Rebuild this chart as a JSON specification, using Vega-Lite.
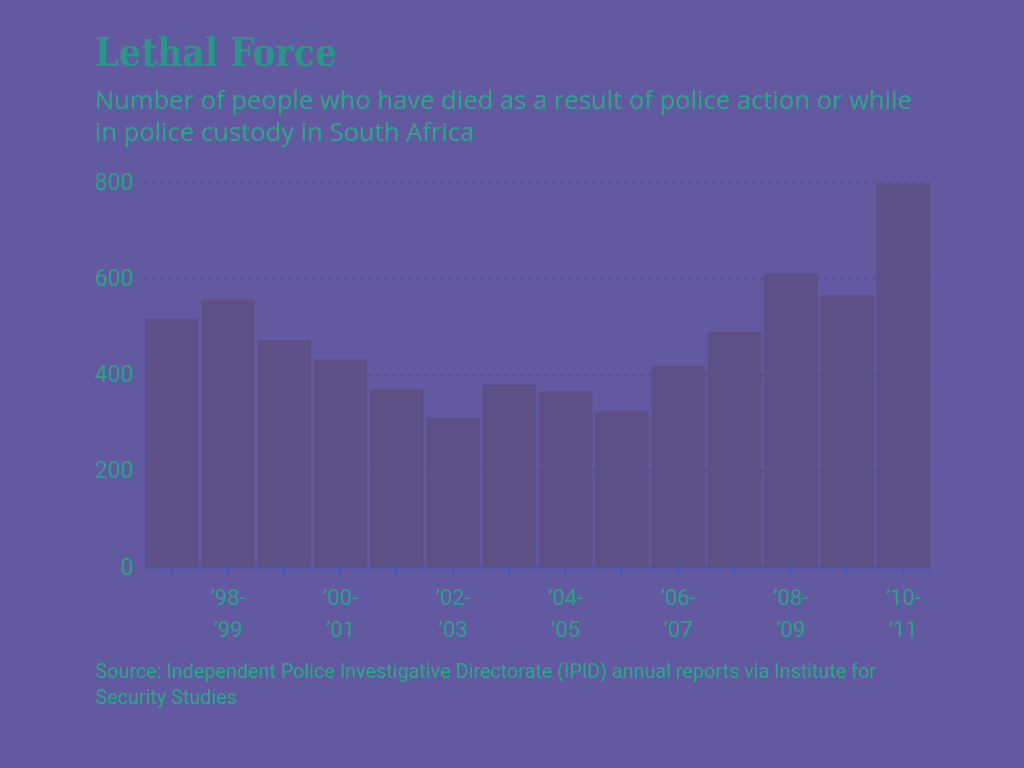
{
  "$schema": "https://vega.github.io/schema/vega-lite/v6.json",
  "width": 785,
  "height": 385,
  "autosize": "none",
  "padding": {"left": 145, "top": 182, "right": 94, "bottom": 201},
  "background": "#6259a0",
  "title": {
    "text": "Lethal Force",
    "subtitle": ["Number of people who have died as a result of police action or while", "in police custody in South Africa"],
    "anchor": "start",
    "frame": "group",
    "dx": -50,
    "offset": 23,
    "font": "DejaVu Serif Condensed, DejaVu Serif",
    "fontWeight": "bold",
    "fontSize": 38.5,
    "color": "#2a9588",
    "subtitleFont": "Open Sans",
    "subtitleFontSize": 25.6,
    "subtitleColor": "#2aa58a",
    "subtitleLineHeight": 32,
    "subtitlePadding": 15
  },
  "data": {
    "values": [
      {"period": "’97-’98", "deaths": 516},
      {"period": "’98-’99", "deaths": 556},
      {"period": "’99-’00", "deaths": 471},
      {"period": "’00-’01", "deaths": 431},
      {"period": "’01-’02", "deaths": 369},
      {"period": "’02-’03", "deaths": 310},
      {"period": "’03-’04", "deaths": 379},
      {"period": "’04-’05", "deaths": 365},
      {"period": "’05-’06", "deaths": 324},
      {"period": "’06-’07", "deaths": 418},
      {"period": "’07-’08", "deaths": 489},
      {"period": "’08-’09", "deaths": 611},
      {"period": "’09-’10", "deaths": 565},
      {"period": "’10-’11", "deaths": 797}
    ]
  },
  "mark": {"type": "bar", "color": "#5c5087"},
  "encoding": {
    "x": {
      "field": "period",
      "type": "nominal",
      "sort": null,
      "scale": {"paddingInner": 0.05, "paddingOuter": 0},
      "axis": {
        "title": ["Source: Independent Police Investigative Directorate (IPID) annual reports via Institute for", "Security Studies"],
        "titleAnchor": "start",
        "titleAlign": "left",
        "titleBaseline": "top",
        "titleX": -50,
        "titleY": 94,
        "titleFont": "Roboto",
        "titleFontWeight": "normal",
        "titleFontSize": 19.8,
        "titleColor": "#2aa58a",
        "titleLineHeight": 26,
        "labelAngle": 0,
        "labelExpr": "indexof(['98','00','02','04','06','08','10'], slice(datum.value,1,3)) >= 0 ? [slice(datum.value,0,4), slice(datum.value,4)] : ''",
        "labelFont": "Roboto",
        "labelFontSize": 22,
        "labelColor": "#2aa08a",
        "labelLineHeight": 32,
        "labelPadding": 13,
        "labelBaseline": "top",
        "labelOverlap": false,
        "domainColor": "#3f56b8",
        "domainWidth": 2,
        "tickColor": "#3f56b8",
        "tickSize": 7,
        "tickWidth": 1.5
      }
    },
    "y": {
      "field": "deaths",
      "type": "quantitative",
      "scale": {"domain": [0, 800]},
      "axis": {
        "title": null,
        "values": [0, 200, 400, 600, 800],
        "domain": false,
        "ticks": false,
        "labelFont": "Roboto",
        "labelFontSize": 23,
        "labelColor": "#2aa08a",
        "labelPadding": 12,
        "gridColor": "#3a44a0",
        "gridDash": [2, 6],
        "gridWidth": 1.5
      }
    }
  },
  "config": {"view": {"stroke": null}}
}
